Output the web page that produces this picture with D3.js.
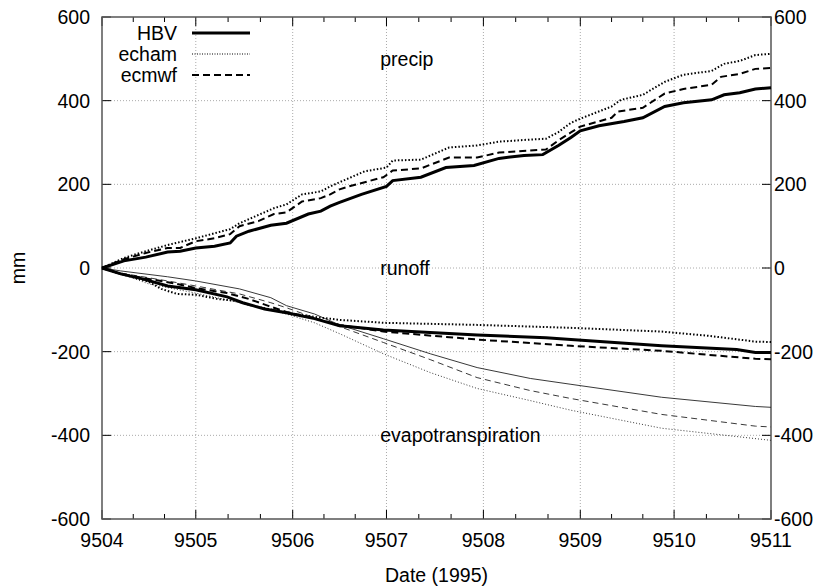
<!DOCTYPE html>
<html>
<head>
<meta charset="utf-8">
<script src="https://cdn.jsdelivr.net/npm/d3@7"></script>
<style>
  body { margin: 0; background: #fff; }
  svg text { font-family: "Liberation Sans", Arial, sans-serif; fill: #000; }
</style>
</head>
<body>
<svg id="chart" width="814" height="586"></svg>
<script>
// day offset from 1 April 1995, cumulative mm
const precipHBV = [[0,0],[7,17],[14,26],[21,38],[25,40],[30,48],[36,52],[41,60],[43,76],[47,88],[54,102],[59,107],[66,129],[70,136],[73,148],[76,157],[83,176],[91,195],[93,209],[102,217],[110,240],[119,245],[127,262],[135,269],[141,271],[146,293],[150,312],[153,328],[159,340],[167,350],[173,359],[180,386],[186,395],[195,402],[199,414],[204,419],[209,428],[214,431]];
const precipEcham = [[0,0],[7,24],[14,40],[21,55],[30,71],[41,93],[44,107],[55,143],[59,152],[64,176],[70,183],[73,195],[76,205],[84,231],[91,240],[93,257],[102,259],[111,288],[120,293],[127,302],[137,307],[142,309],[146,325],[150,347],[153,357],[163,386],[166,402],[173,414],[180,445],[186,462],[195,471],[199,488],[204,495],[209,509],[214,512]];
const precipEcmwf = [[0,0],[7,21],[14,36],[21,48],[25,48],[30,64],[36,71],[41,81],[44,100],[50,112],[55,129],[59,133],[64,159],[70,167],[73,176],[76,188],[79,195],[90,217],[93,233],[102,238],[111,264],[120,264],[127,276],[137,281],[142,283],[146,305],[150,324],[153,338],[163,359],[165,374],[173,383],[180,417],[186,428],[195,438],[198,457],[204,464],[209,476],[214,478]];

const runoffHBV = [[0,0],[6,-14],[13,-26],[21,-43],[30,-52],[40,-69],[45,-83],[52,-98],[59,-107],[68,-121],[76,-138],[90,-148],[120,-160],[142,-167],[150,-171],[179,-186],[203,-195],[209,-202],[214,-202]];
const runoffEcham = [[0,0],[6,-14],[15,-33],[19,-50],[24,-62],[30,-64],[37,-74],[43,-79],[48,-90],[59,-107],[68,-117],[76,-124],[90,-131],[120,-136],[150,-143],[179,-152],[194,-162],[209,-176],[214,-177]];
const runoffEcmwf = [[0,0],[6,-14],[15,-26],[24,-38],[30,-48],[40,-60],[47,-74],[53,-90],[59,-105],[68,-121],[76,-136],[90,-152],[120,-171],[150,-186],[179,-198],[209,-217],[214,-218]];

const evapHBV = [[0,0],[6,-7],[21,-21],[30,-31],[44,-50],[54,-71],[59,-90],[68,-110],[76,-136],[90,-169],[105,-205],[120,-238],[137,-264],[150,-278],[179,-309],[209,-331],[214,-333]];
const evapEcham = [[0,0],[6,-14],[15,-38],[30,-60],[44,-83],[59,-110],[68,-131],[76,-157],[90,-205],[105,-250],[120,-288],[137,-317],[150,-340],[179,-383],[214,-412]];
const evapEcmwf = [[0,0],[6,-12],[21,-31],[30,-43],[44,-62],[54,-83],[59,-95],[68,-119],[76,-140],[90,-178],[105,-219],[120,-262],[137,-293],[150,-312],[179,-350],[209,-378],[214,-380]];

const yTicks = [-600, -400, -200, 0, 200, 400, 600];
const legendNames = ["HBV", "echam", "ecmwf"];
const annotations = [["precip", 89, 500], ["runoff", 89, 0], ["evapotranspiration", 89, -400]];

const W = 814, H = 586;
const margin = { top: 17, right: 43, bottom: 67, left: 102 };
const w = W - margin.left - margin.right;
const h = H - margin.top - margin.bottom;
const FS = "19.5px";

const t0 = Date.UTC(1995, 3, 1);
const day = d => new Date(t0 + d * 86400000);

const x = d3.scaleUtc().domain([day(0), new Date(Date.UTC(1995, 10, 1))]).range([0, w]);
const y = d3.scaleLinear().domain([-600, 600]).range([h, 0]);

const svg = d3.select("#chart");
const g = svg.append("g").attr("transform", `translate(${margin.left},${margin.top})`);

const months = d3.utcMonth.range(x.domain()[0], d3.utcDay.offset(x.domain()[1], 1));
const minor = [];
months.slice(0, -1).forEach((m, i) => {
  const a = +m, b = +months[i + 1];
  minor.push(new Date(a + (b - a) / 3), new Date(a + 2 * (b - a) / 3));
});

// grid
g.selectAll(".vgrid").data(months.slice(1, -1)).enter().append("line")
  .attr("x1", d => x(d)).attr("x2", d => x(d)).attr("y1", 0).attr("y2", h)
  .attr("stroke", "#aaa").attr("stroke-width", 1).attr("stroke-dasharray", "1,2");
g.selectAll(".hgrid").data(yTicks.slice(1, -1)).enter().append("line")
  .attr("x1", 0).attr("x2", w).attr("y1", d => y(d)).attr("y2", d => y(d))
  .attr("stroke", "#aaa").attr("stroke-width", 1).attr("stroke-dasharray", "1,2");

// ticks (inward, all four sides)
const tk = g.append("g").attr("stroke", "#000").attr("stroke-width", 1);
months.forEach(m => {
  tk.append("line").attr("x1", x(m)).attr("x2", x(m)).attr("y1", h).attr("y2", h - 9);
  tk.append("line").attr("x1", x(m)).attr("x2", x(m)).attr("y1", 0).attr("y2", 9);
});
minor.forEach(m => {
  tk.append("line").attr("x1", x(m)).attr("x2", x(m)).attr("y1", h).attr("y2", h - 5);
  tk.append("line").attr("x1", x(m)).attr("x2", x(m)).attr("y1", 0).attr("y2", 5);
});
yTicks.forEach(v => {
  tk.append("line").attr("x1", 0).attr("x2", 9).attr("y1", y(v)).attr("y2", y(v));
  tk.append("line").attr("x1", w).attr("x2", w - 9).attr("y1", y(v)).attr("y2", y(v));
});

g.append("rect").attr("x", 0).attr("y", 0).attr("width", w).attr("height", h)
  .attr("fill", "none").attr("stroke", "#555").attr("stroke-width", 1.5);

// tick labels
const fmt = d3.utcFormat("%y%m");
g.selectAll(".xl").data(months).enter().append("text")
  .attr("x", d => x(d)).attr("y", h + 28).attr("text-anchor", "middle")
  .style("font-size", FS).text(d => fmt(d));
g.selectAll(".yl").data(yTicks).enter().append("text")
  .attr("x", -12).attr("y", d => y(d) + 7).attr("text-anchor", "end")
  .style("font-size", FS).text(d => d);
g.selectAll(".yr").data(yTicks).enter().append("text")
  .attr("x", w + 3).attr("y", d => y(d) + 7).attr("text-anchor", "start")
  .style("font-size", FS).text(d => d);

svg.append("text").attr("x", margin.left + w / 2).attr("y", H - 4)
  .attr("text-anchor", "middle").style("font-size", FS).text("Date (1995)");
svg.append("text").attr("transform", `translate(25,${margin.top + y(0)}) rotate(-90)`)
  .attr("text-anchor", "middle").style("font-size", FS).text("mm");

// curves
const line = d3.line().x(d => x(day(d[0]))).y(d => y(d[1]));
const thick = [
  [precipHBV, "solid"], [precipEcham, "dot"], [precipEcmwf, "dash"],
  [runoffHBV, "solid"], [runoffEcham, "dot"], [runoffEcmwf, "dash"]
];
const thin = [[evapHBV, "solid"], [evapEcham, "dot"], [evapEcmwf, "dash"]];
const dash = { solid: null, dot: "1.5,2", dash: "7,4" };

thin.forEach(([d, s]) => {
  g.append("path").datum(d).attr("d", line).attr("fill", "none")
    .attr("stroke", "#222").attr("stroke-width", 0.9)
    .attr("stroke-dasharray", s === "dot" ? "1,2" : s === "dash" ? "6,4" : null);
});
thick.forEach(([d, s]) => {
  g.append("path").datum(d).attr("d", line).attr("fill", "none")
    .attr("stroke", "#000").attr("stroke-width", s === "solid" ? 3 : 2)
    .attr("stroke-dasharray", dash[s]);
});

// annotations
annotations.forEach(([t, d, v]) => {
  g.append("text").attr("x", x(day(d))).attr("y", y(v) + 7)
    .style("font-size", FS).text(t);
});

// legend
const lg = g.append("g");
const legendStyle = [["solid", 3], ["dot", 1.2], ["dash", 1.8]];
legendNames.forEach((n, i) => {
  const ly = 16 + i * 21;
  lg.append("text").attr("x", 75).attr("y", ly + 7).attr("text-anchor", "end")
    .style("font-size", FS).text(n);
  lg.append("line").attr("x1", 90).attr("x2", 148).attr("y1", ly).attr("y2", ly)
    .attr("stroke", "#000").attr("stroke-width", legendStyle[i][1])
    .attr("stroke-dasharray", legendStyle[i][0] === "dot" ? "1,1.5" : dash[legendStyle[i][0]]);
});
</script>
</body>
</html>
